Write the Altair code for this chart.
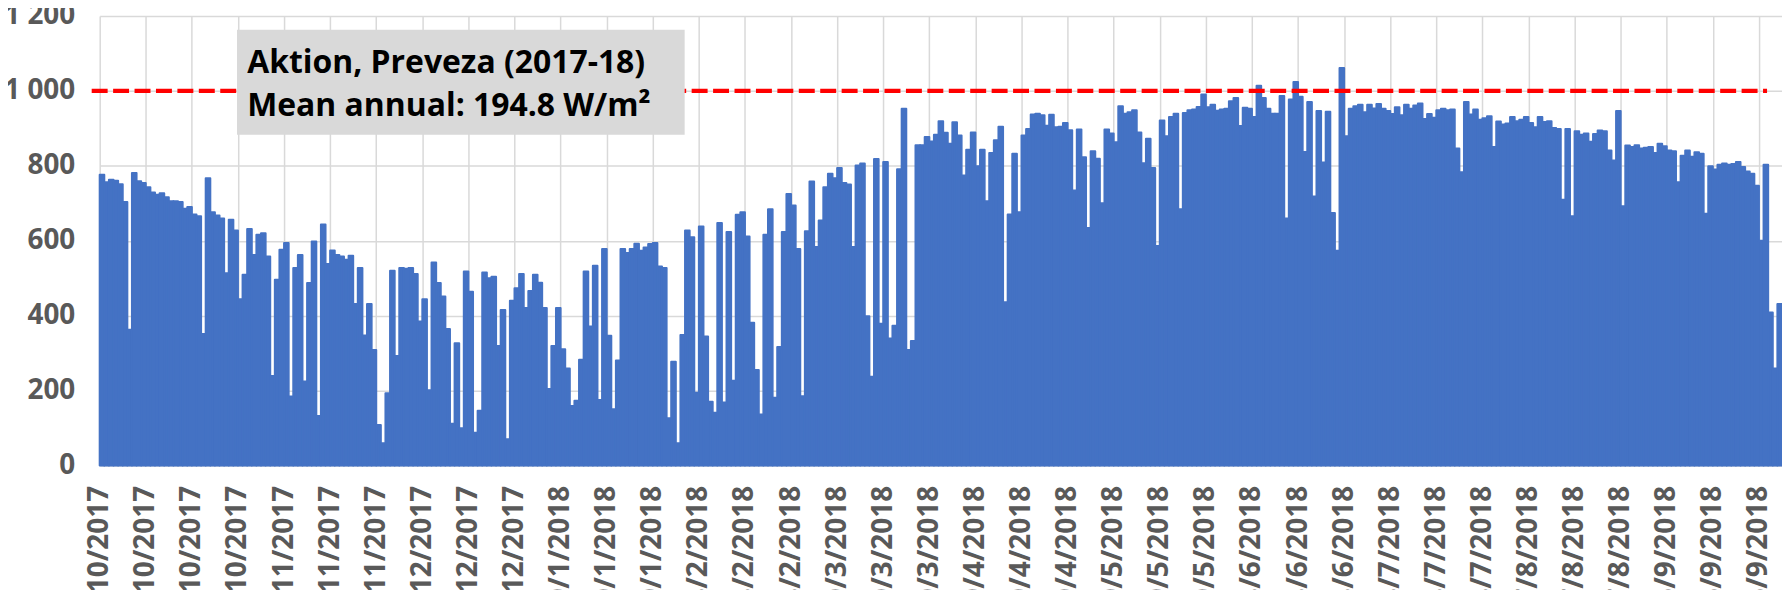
import altair as alt
import pandas as pd

# ---- data (daily peak irradiance, W/m2) ----
START_DATE = "2017-10-01"
END_DATE = "2018-10-01"

PEAK_1 = [776, 756, 763, 760, 751, 703, 362, 781, 759, 754, 743, 729, 723, 727,
          716, 705, 705, 703, 685, 690, 670, 665]
PEAK_2 = [351, 767, 676, 667, 659, 513, 656, 627, 444, 509,
          631, 562, 616, 620, 558, 239, 496, 576, 594, 184,
          527, 562, 224, 487, 598, 132, 643, 538, 574, 562,
          558, 549, 560, 431, 527, 347, 431, 308, 108, 59,
          193, 520, 292, 527, 525, 527, 511, 384, 444, 201,
          542, 487, 451, 364, 111, 326, 99, 518, 464, 87,
          146, 515, 500, 504, 319, 415, 70, 440, 473, 511,
          420, 466, 509, 488, 420, 204, 319, 420, 310, 259,
          159, 173, 282, 518, 371, 533, 175, 578, 346, 150,
          280, 578, 567, 578, 592, 573, 582, 591, 594, 531]
PEAK_3 = [527, 126, 277, 59, 348, 627, 609, 194, 638, 344,
          170, 141, 647, 168, 623, 226, 669, 676, 611, 381,
          255, 136, 616, 684, 181, 316, 623, 725, 694, 578,
          185, 625, 758, 583, 654, 743, 779, 767, 794, 754,
          750, 583, 801, 806, 398, 237, 818, 378, 810, 339,
          373, 791, 952, 308, 332, 855, 855, 877, 865, 883,
          919, 888, 859, 916, 881, 774, 843, 889, 799, 843,
          705, 834, 868, 904, 436, 670, 832, 676, 881, 898,
          937, 939, 935, 907, 936, 903, 904, 914, 895, 734,
          897, 823, 634, 839, 819, 700, 897, 886, 863, 959,
          939, 943, 948, 889, 807, 872, 794, 586, 921, 879,
          930, 939, 684, 941, 948, 950, 957, 990, 956, 963,
          947, 950]
PEAK_4 = [952, 972, 981, 906, 955, 952, 930, 1014, 981, 952,
          939, 939, 986, 659, 977, 1024, 984, 837, 970, 718,
          946, 809, 944, 674, 573, 1061, 879, 952, 959, 963,
          943, 963, 953, 965, 952, 946, 938, 956, 935, 963,
          952, 961, 966, 925, 938, 928, 948, 952, 948, 950,
          846, 783, 970, 937, 950, 923, 927, 932, 850, 918,
          910, 913, 930, 919, 923, 930, 914, 903, 930, 917,
          919, 901, 898, 709, 898, 665, 892, 883, 886, 864,
          885, 894, 892, 841, 814, 946, 692, 854, 850, 855,
          846, 848, 850, 834, 859, 852, 841, 839, 756, 827,
          841, 824, 836, 832, 672, 799, 790, 803, 806, 803,
          805, 810, 797, 785, 779, 747, 600, 803, 408, 259,
          431]

TICK_DATES = ["2017-10-01", "2017-10-11", "2017-10-21", "2017-10-31",
              "2017-11-10", "2017-11-20", "2017-11-30",
              "2017-12-10", "2017-12-20", "2017-12-30",
              "2018-01-09", "2018-01-19", "2018-01-29",
              "2018-02-08", "2018-02-18", "2018-02-28",
              "2018-03-10", "2018-03-20", "2018-03-30",
              "2018-04-09", "2018-04-19", "2018-04-29",
              "2018-05-09", "2018-05-19", "2018-05-29",
              "2018-06-08", "2018-06-18", "2018-06-28",
              "2018-07-08", "2018-07-18", "2018-07-28",
              "2018-08-07", "2018-08-17", "2018-08-27",
              "2018-09-06", "2018-09-16", "2018-09-26"]
Y_TICKS = [0, 200, 400, 600, 800, 1000, 1200]
REF_LEVEL = [1000]
BOX_LINES = ["Aktion, Preveza (2017-18)", "Mean annual: 194.8 W/m²"]

# ---- layout / style constants ----
PLOT_W = 1688
PLOT_H = 451
BLUE = "#4472C4"
GRID = "#D9D9D9"
LABEL_GREY = "#595959"
FONT = "Open Sans"


def dt(s):
    t = pd.Timestamp(s)
    return alt.DateTime(year=t.year, month=t.month, date=t.day,
                        hours=t.hour, minutes=t.minute)


peaks = PEAK_1 + PEAK_2 + PEAK_3 + PEAK_4
days = pd.date_range(START_DATE, periods=len(peaks), freq="D")
df = pd.DataFrame({"start": days, "end": days + pd.Timedelta(days=1), "peak": peaks})

x_scale = alt.Scale(domain=[dt(START_DATE), dt(END_DATE)])
y_scale = alt.Scale(domain=[0, 1200], nice=False)

x_axis = alt.Axis(values=[dt(s) for s in TICK_DATES], format="%-d/%-m/%Y",
                  labelAngle=-90, labelFont=FONT, labelFontSize=28,
                  labelFontWeight="bold", labelColor=LABEL_GREY,
                  labelPadding=20, ticks=False, domain=False, grid=True,
                  gridColor=GRID, gridWidth=1.5, labelOverlap=False,
                  labelFlush=False, title=None)
y_axis = alt.Axis(values=Y_TICKS,
                  labelExpr="replace(format(datum.value, ','), ',', ' ')",
                  labelFont=FONT, labelFontSize=28, labelFontWeight="bold",
                  labelColor=LABEL_GREY, labelPadding=25, ticks=False,
                  domain=False, grid=True, gridColor=GRID, gridWidth=1.5,
                  title=None)

bars = alt.Chart(df).mark_rect(
    color=BLUE, stroke=BLUE, strokeWidth=2, strokeJoin="round"
).encode(
    x=alt.X("start:T", scale=x_scale, axis=x_axis, title=None),
    x2="end:T",
    y=alt.Y("peak:Q", scale=y_scale, axis=y_axis, title=None),
    y2=alt.Y2Datum(0),
)

rule = alt.Chart(pd.DataFrame({"level": REF_LEVEL})).mark_rule(
    color="#FF0000", strokeWidth=4.5, strokeDash=[16, 5.5]
).encode(
    y=alt.Y("level:Q", title=None),
    x=alt.XDatum(dt("2017-09-29T06:20"), type="temporal"),
    x2=alt.X2Datum(dt("2018-09-27T18:10")),
)

box = alt.Chart(pd.DataFrame({"k": [0]})).mark_rect(color="#D9D9D9").encode(
    x=alt.XDatum(dt("2017-10-30T19:00"), type="temporal"),
    x2=alt.X2Datum(dt("2018-02-04T22:00")),
    y=alt.YDatum(1163),
    y2=alt.Y2Datum(883),
)

text_df = pd.DataFrame({"line": BOX_LINES, "row": [0, 1]})
text = alt.Chart(text_df).mark_text(
    align="left", baseline="alphabetic", font=FONT, fontSize=32,
    fontWeight="bold", color="black"
).encode(
    x=alt.XDatum(dt("2017-11-02T00:00"), type="temporal"),
    y=alt.Y("ypos:Q", title=None),
    text="line:N",
).transform_calculate(ypos="datum.row == 0 ? 1048 : 934")

chart = alt.layer(bars, rule, box, text).properties(
    width=PLOT_W, height=PLOT_H,
    autosize=alt.AutoSizeParams(type="none"),
    padding={"left": 92, "top": 7, "right": 0, "bottom": 124},
    background="white",
).configure_view(strokeWidth=0)

chart.save("out.html", embed_options={"renderer": "svg", "actions": False})
